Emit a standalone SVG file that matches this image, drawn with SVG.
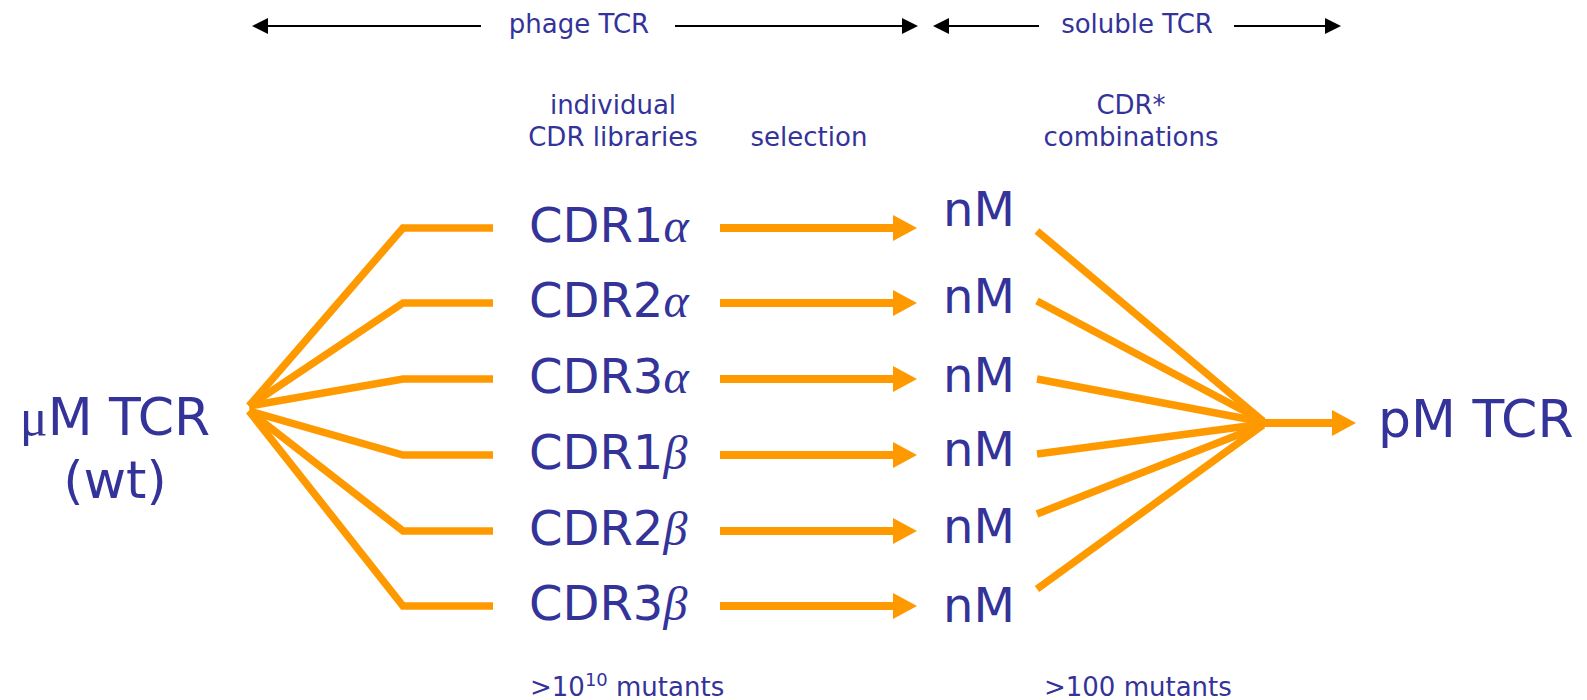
<svg xmlns="http://www.w3.org/2000/svg" width="1587" height="700" viewBox="0 0 1587 700">
<style>
  text { font-family: "DejaVu Sans", Verdana, sans-serif; fill: #333399; }
  .sm { font-size: 26px; }
  .big { font-size: 48px; }
  .huge { font-size: 52px; }
  .gr { font-family: "Liberation Serif", "DejaVu Serif", serif; font-style: italic; }
  .mu { font-family: "Liberation Serif", "DejaVu Serif", serif; }
  .org { stroke: #FF9900; stroke-width: 7.5; fill: none; }
  .shaft { stroke: #FF9900; stroke-width: 8; fill: none; }
  .blk { stroke: #000; stroke-width: 2; fill: none; }
</style>
<defs>
  <marker id="oh" viewBox="0 0 24 26" markerWidth="24" markerHeight="26" markerUnits="userSpaceOnUse" refX="0" refY="13" orient="auto">
    <path d="M0,0 L24,13 L0,26 z" fill="#FF9900"/>
  </marker>
  <marker id="bh" viewBox="0 0 16 16" markerWidth="16" markerHeight="16" markerUnits="userSpaceOnUse" refX="0" refY="8" orient="auto-start-reverse">
    <path d="M0,0 L16,8 L0,16 z" fill="#000"/>
  </marker>
</defs>

<g id="connectors">
  <!-- top range arrows -->
  <line class="blk" x1="268" y1="26" x2="481" y2="26" marker-start="url(#bh)"/>
  <line class="blk" x1="675" y1="26" x2="902" y2="26" marker-end="url(#bh)"/>
  <line class="blk" x1="949" y1="26" x2="1039" y2="26" marker-start="url(#bh)"/>
  <line class="blk" x1="1234" y1="26" x2="1325" y2="26" marker-end="url(#bh)"/>
  <!-- left fan -->
  <polyline class="org" points="249,406 403,228 493,228"/>
  <polyline class="org" points="249,406 403,303 493,303"/>
  <polyline class="org" points="249,406 403,379 493,379"/>
  <polyline class="org" points="249,411 403,455 493,455"/>
  <polyline class="org" points="249,411 403,531 493,531"/>
  <polyline class="org" points="249,411 403,606 493,606"/>
  <!-- selection arrows -->
  <line class="shaft" x1="720" y1="228" x2="893" y2="228" marker-end="url(#oh)"/>
  <line class="shaft" x1="720" y1="303" x2="893" y2="303" marker-end="url(#oh)"/>
  <line class="shaft" x1="720" y1="379" x2="893" y2="379" marker-end="url(#oh)"/>
  <line class="shaft" x1="720" y1="455" x2="893" y2="455" marker-end="url(#oh)"/>
  <line class="shaft" x1="720" y1="531" x2="893" y2="531" marker-end="url(#oh)"/>
  <line class="shaft" x1="720" y1="606" x2="893" y2="606" marker-end="url(#oh)"/>
  <!-- right fan -->
  <line class="org" x1="1037" y1="231" x2="1263" y2="421"/>
  <line class="org" x1="1037" y1="301" x2="1263" y2="421"/>
  <line class="org" x1="1037" y1="379" x2="1263" y2="422"/>
  <line class="org" x1="1037" y1="454" x2="1263" y2="424"/>
  <line class="org" x1="1037" y1="514" x2="1263" y2="425"/>
  <line class="org" x1="1037" y1="589" x2="1263" y2="425"/>
  <line class="shaft" x1="1258" y1="423" x2="1332" y2="423" marker-end="url(#oh)"/>
</g>

<g id="header-phage"><text class="sm" x="579" y="33" text-anchor="middle">phage TCR</text></g>
<g id="header-soluble"><text class="sm" x="1137" y="33" text-anchor="middle">soluble TCR</text></g>
<g id="label-libraries"><text class="sm" x="613" y="114" text-anchor="middle">individual</text><text class="sm" x="613" y="146" text-anchor="middle">CDR libraries</text></g>
<g id="label-selection"><text class="sm" x="809" y="146" text-anchor="middle">selection</text></g>
<g id="label-combinations"><text class="sm" x="1131" y="114" text-anchor="middle">CDR*</text><text class="sm" x="1131" y="146" text-anchor="middle">combinations</text></g>

<g id="node-wt"><text class="huge" x="115" y="435" text-anchor="middle"><tspan class="mu">μ</tspan>M TCR</text><text class="huge" x="115" y="498" text-anchor="middle">(wt)</text></g>

<g id="node-cdr1a"><text class="big" x="529" y="242">CDR1<tspan class="gr">α</tspan></text></g>
<g id="node-cdr2a"><text class="big" x="529" y="317">CDR2<tspan class="gr">α</tspan></text></g>
<g id="node-cdr3a"><text class="big" x="529" y="393">CDR3<tspan class="gr">α</tspan></text></g>
<g id="node-cdr1b"><text class="big" x="529" y="469">CDR1<tspan class="gr">β</tspan></text></g>
<g id="node-cdr2b"><text class="big" x="529" y="545">CDR2<tspan class="gr">β</tspan></text></g>
<g id="node-cdr3b"><text class="big" x="529" y="620">CDR3<tspan class="gr">β</tspan></text></g>

<g id="node-nm1"><text class="big" x="943" y="226">nM</text></g>
<g id="node-nm2"><text class="big" x="943" y="313">nM</text></g>
<g id="node-nm3"><text class="big" x="943" y="392">nM</text></g>
<g id="node-nm4"><text class="big" x="943" y="466">nM</text></g>
<g id="node-nm5"><text class="big" x="943" y="543">nM</text></g>
<g id="node-nm6"><text class="big" x="943" y="622">nM</text></g>

<g id="node-pm"><text class="huge" x="1378" y="437">pM TCR</text></g>

<g id="footer-phage"><text class="sm" x="530" y="696">&gt;10<tspan font-size="18" dy="-10">10</tspan><tspan dy="10"> mutants</tspan></text></g>
<g id="footer-soluble"><text class="sm" x="1044" y="696">&gt;100 mutants</text></g>
</svg>
